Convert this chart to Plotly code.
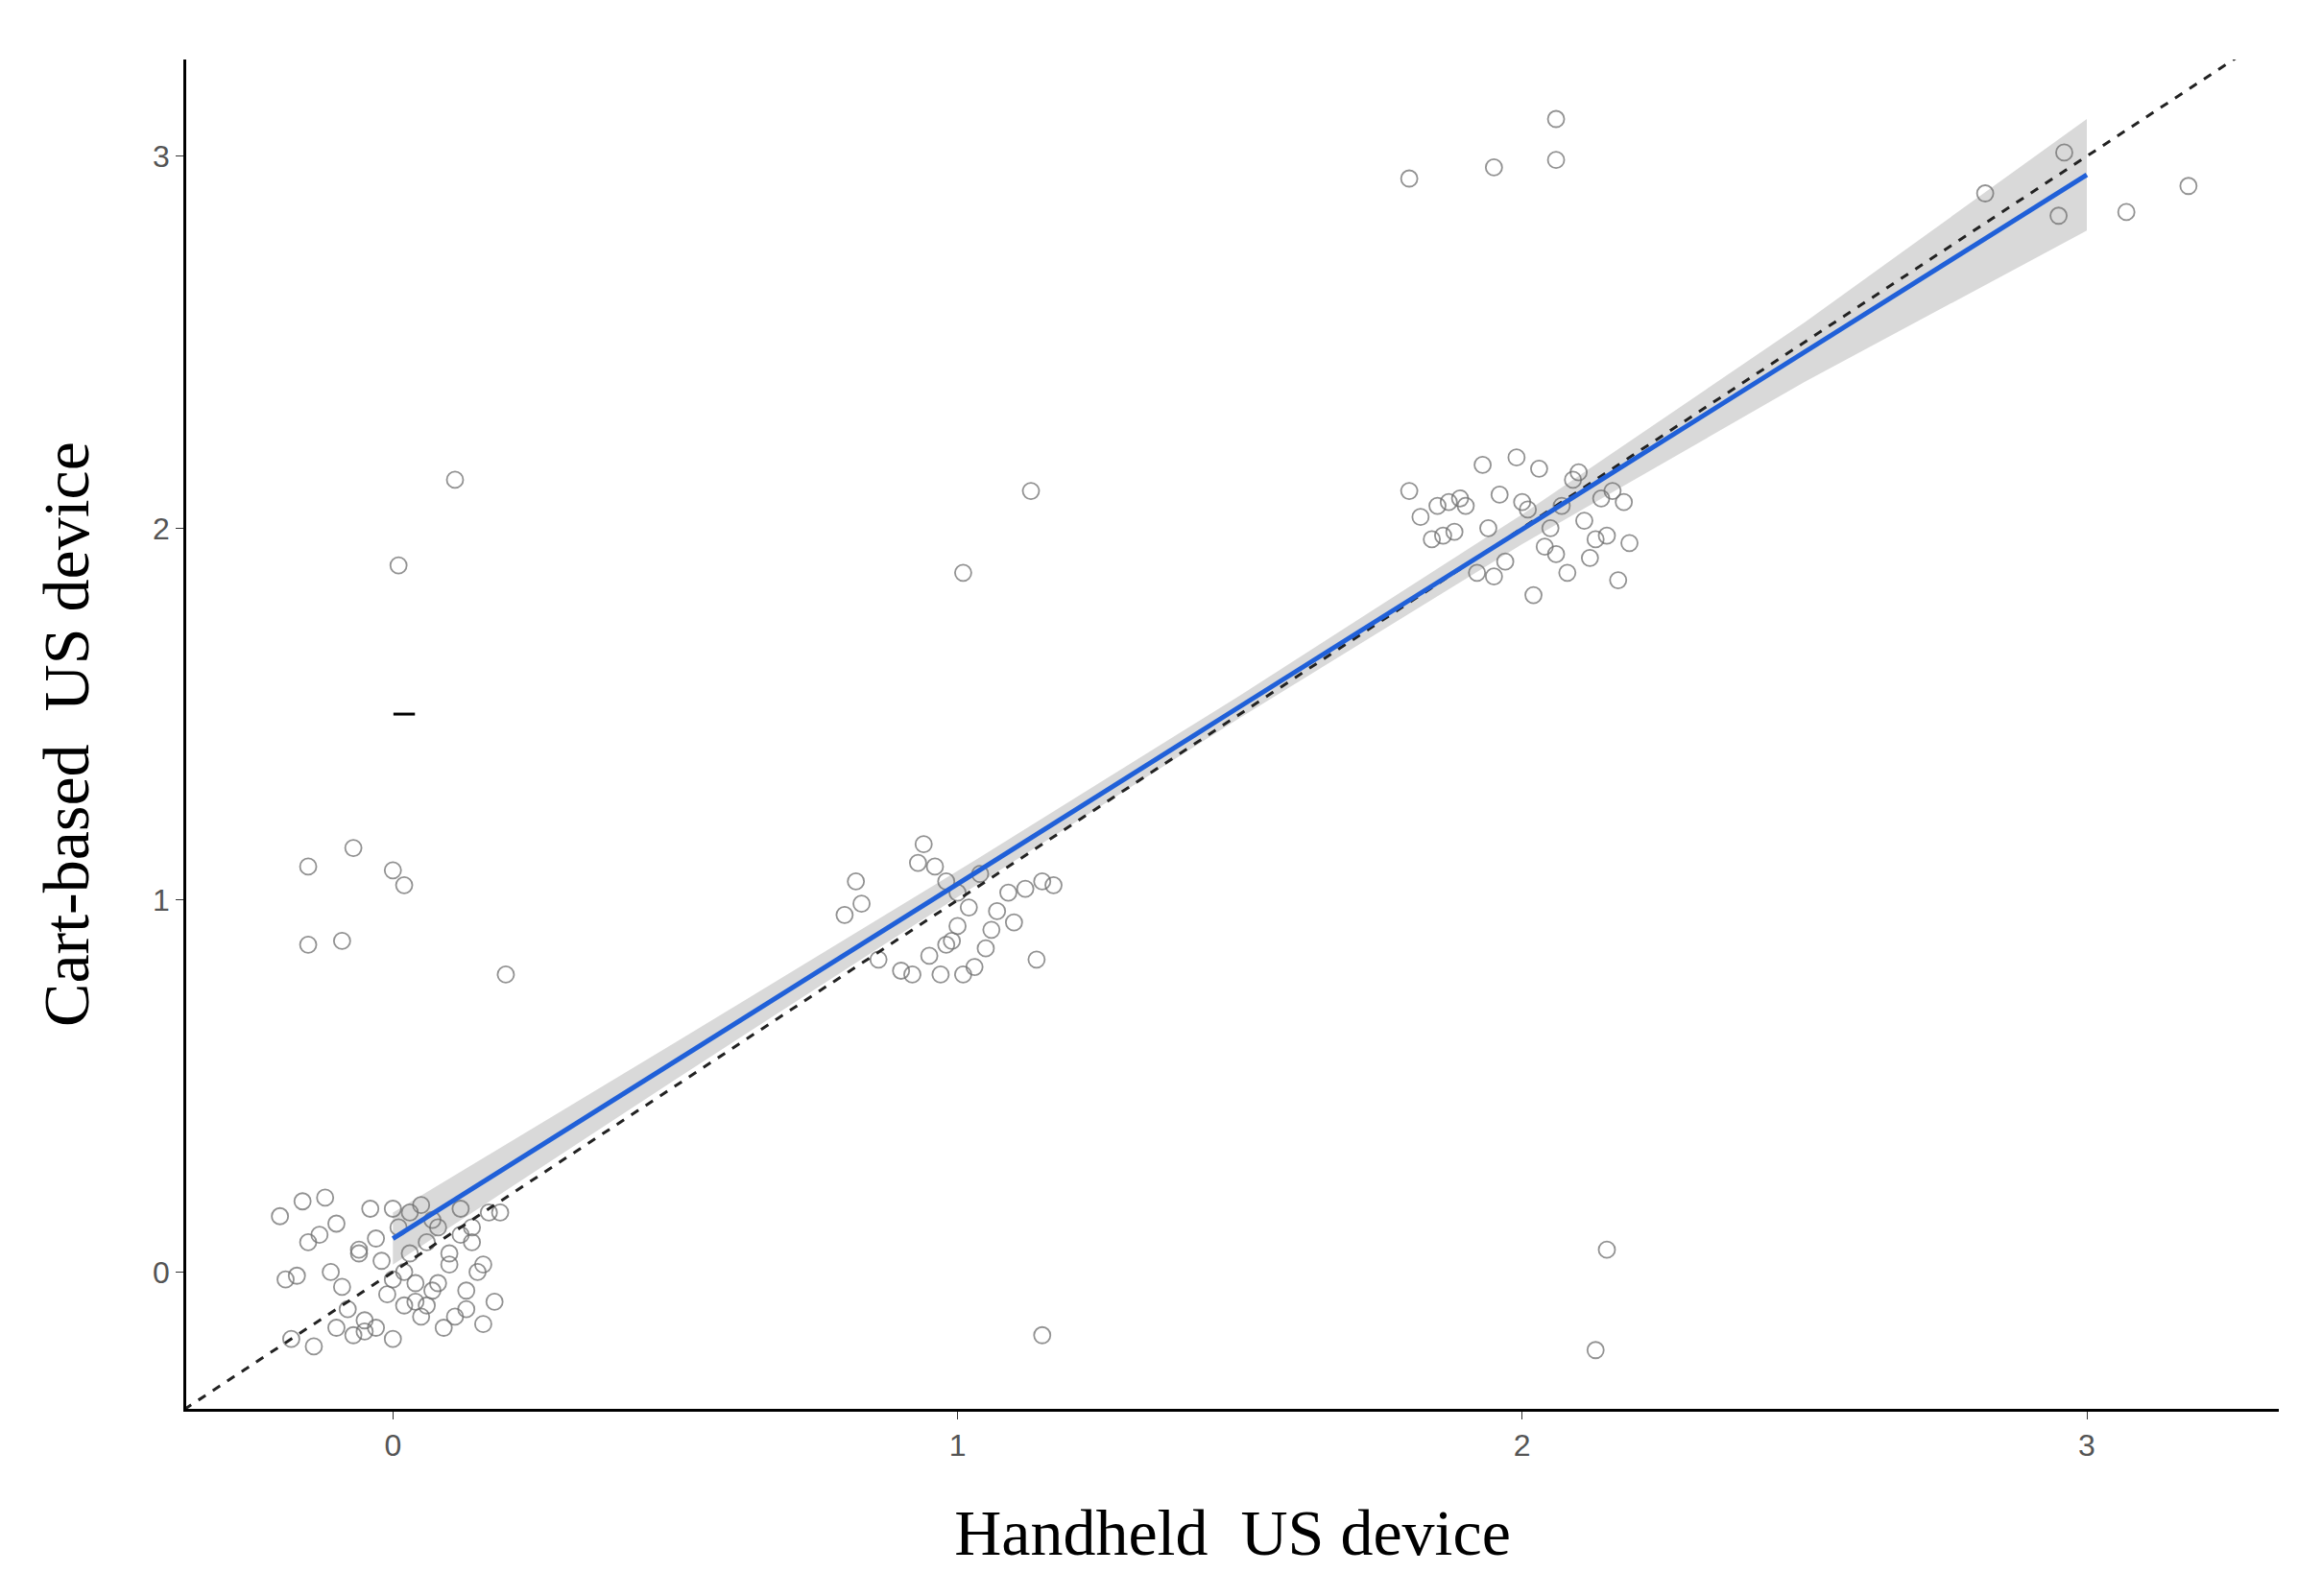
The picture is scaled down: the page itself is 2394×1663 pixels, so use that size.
import plotly.graph_objects as go

# scatter data (handheld x, cart y)
x0 = [-0.2,-0.18,-0.16,-0.15,-0.14,-0.12,-0.11,-0.1,-0.08,-0.07,-0.06,-0.05,-0.04,-0.03,-0.02,-0.01,0.0,0.0,0.01,0.02,0.03,0.04,0.05,0.05,0.06,0.07,0.08,0.09,0.1,0.11,0.12,0.13,0.14,0.15,0.16,0.17,0.18,0.19,-0.17,-0.13,-0.09,-0.06,-0.03,0.02,0.04,0.07,0.1,0.13,0.16,-0.19,-0.05,0.0,0.03,0.08,0.12,-0.1,0.06,0.14]
y0 = [0.15,-0.18,0.19,0.08,-0.2,0.2,0.0,0.13,-0.1,-0.17,0.06,-0.13,0.17,-0.15,0.03,-0.06,0.17,-0.18,0.12,-0.09,0.16,-0.03,0.18,-0.12,0.08,-0.05,0.12,-0.15,0.02,-0.12,0.17,-0.1,0.08,0.0,-0.14,0.16,-0.08,0.16,-0.01,0.1,-0.04,0.05,0.09,0.0,-0.08,0.14,0.05,-0.05,0.02,-0.02,-0.16,-0.02,0.05,-0.03,0.1,-0.15,-0.09,0.12]
x1 = [0.8,0.82,0.83,0.86,0.9,0.93,0.94,0.95,0.96,0.97,0.98,0.99,1.0,1.01,1.02,1.03,1.04,1.05,1.07,1.09,1.1,1.12,1.14,1.15,1.17,0.98,1.0,0.92,1.06]
y1 = [0.96,1.05,0.99,0.84,0.81,1.1,1.15,0.85,1.09,0.8,1.05,0.89,0.93,0.8,0.98,0.82,1.07,0.87,0.97,1.02,0.94,1.03,0.84,1.05,1.04,0.88,1.02,0.8,0.92]
x2 = [1.8,1.82,1.84,1.85,1.86,1.87,1.88,1.9,1.92,1.93,1.95,1.96,1.97,1.99,2.0,2.02,2.03,2.04,2.05,2.07,2.08,2.09,2.1,2.11,2.12,2.14,2.15,2.16,2.17,2.18,2.19,1.94,2.01,2.06,1.89,2.13]
y2 = [2.1,2.03,1.97,2.06,1.98,2.07,1.99,2.06,1.88,2.17,1.87,2.09,1.91,2.19,2.07,1.82,2.16,1.95,2.0,2.06,1.88,2.13,2.15,2.02,1.92,2.08,1.98,2.1,1.86,2.07,1.96,2.0,2.05,1.93,2.08,1.97]
xo = [0.11,0.01,-0.15,-0.07,0.0,0.02,-0.15,-0.09,0.2,1.13,1.01,1.15,1.8,1.95,2.06,2.06,2.15,2.13,2.82,2.96,3.07,3.18,2.95]
yo = [2.13,1.9,1.09,1.14,1.08,1.04,0.88,0.89,0.8,2.1,1.88,-0.17,2.94,2.97,3.1,2.99,0.06,-0.21,2.9,3.01,2.85,2.92,2.84]
xs = x0 + x1 + x2 + xo
ys = y0 + y1 + y2 + yo

fit_x = [0, 0.5, 1.0, 1.5, 2.0, 2.5, 3.0]
fit_y = [0.09, 0.567, 1.043, 1.52, 1.997, 2.473, 2.95]
ci_half = [0.07, 0.05, 0.035, 0.03, 0.04, 0.08, 0.15]
ticks = [0, 1, 2, 3]

fig = go.Figure()
fig.add_trace(go.Scatter(x=fit_x + fit_x[::-1],
                         y=[a + b for a, b in zip(fit_y, ci_half)] + [a - b for a, b in zip(fit_y, ci_half)][::-1],
                         fill='toself', fillcolor='rgba(160,160,160,0.4)', line=dict(width=0),
                         mode='lines', hoverinfo='skip'))
fig.add_trace(go.Scatter(x=xs, y=ys, mode='markers',
                         marker=dict(symbol='circle-open', size=17, color='rgba(110,110,110,0.75)', line=dict(width=1.8))))
fig.add_trace(go.Scatter(x=[0.02], y=[1.5], mode='markers',
                         marker=dict(symbol='line-ew', size=16, line=dict(width=3, color='black'))))
fig.add_trace(go.Scatter(x=[-0.37, 3.3], y=[-0.37, 3.3], mode='lines',
                         line=dict(color='#222', width=3, dash='dash')))
fig.add_trace(go.Scatter(x=fit_x, y=fit_y, mode='lines', line=dict(color='#2060d8', width=5)))

axis_common = dict(tickvals=ticks, showgrid=False, zeroline=False, showline=True,
                   linecolor='black', linewidth=2.5, ticks='outside', ticklen=8, tickcolor='#333',
                   tickfont=dict(family='Liberation Sans', size=32, color='#555'))
fig.update_layout(
    width=2394, height=1663, plot_bgcolor='white', paper_bgcolor='white', showlegend=False,
    margin=dict(l=186, r=28, t=54, b=203),
    xaxis=dict(range=[-0.366, 3.34], title=dict(text='Handheld  US device', standoff=50,
               font=dict(family='Liberation Serif', size=68, color='black')), **axis_common),
    yaxis=dict(range=[-0.368, 3.26], title=dict(text='Cart-based  US device', standoff=45,
               font=dict(family='Liberation Serif', size=68, color='black')), **axis_common),
)
fig.write_html('out.html')
